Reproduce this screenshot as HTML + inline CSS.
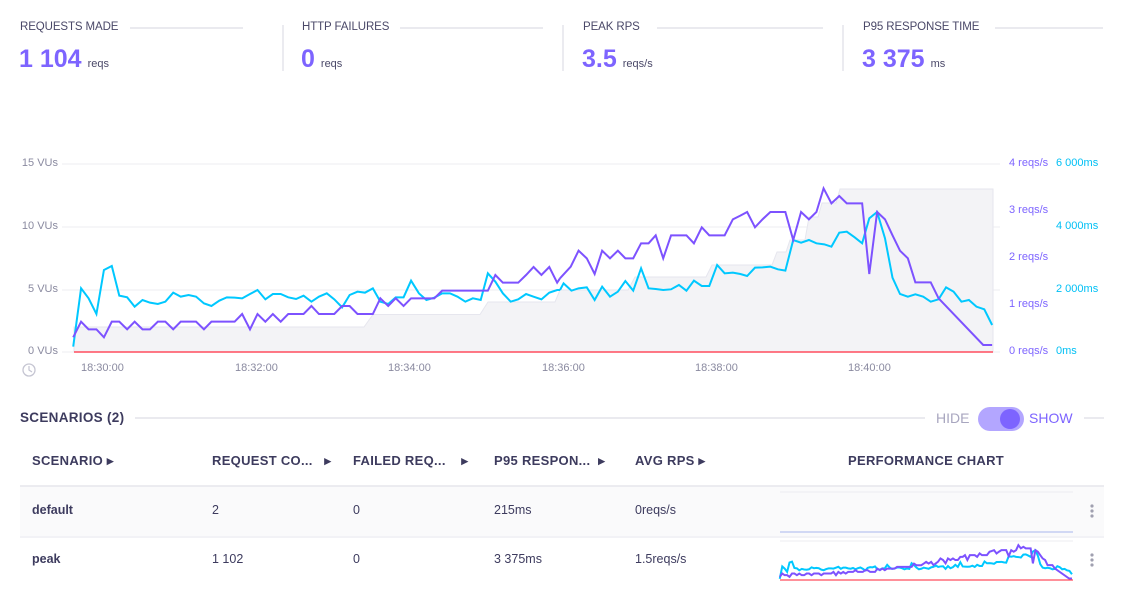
<!DOCTYPE html>
<html><head><meta charset="utf-8"><style>
body{margin:0;width:1123px;height:605px;background:#fff;font-family:"Liberation Sans",sans-serif;position:relative;overflow:hidden;color:#3d3b5e}
.a{position:absolute;white-space:nowrap}
.lbl{font-size:11.5px;color:#4a4868;letter-spacing:-.1px}
.big{font-size:25px;font-weight:bold;color:#7d64ff}
.unit{font-size:11px;color:#4a4868;font-weight:normal;margin-left:6px}
.th{font-size:13px;font-weight:bold;color:#3d3b5e;letter-spacing:.3px}
.td{font-size:12.5px;color:#3d3b5e}
</style></head><body>
<svg class="a" style="left:0;top:0" width="1123" height="605">
<defs>
<path id="area" d="M74,327 H364 L373,314.5 H480 L488,302 H555 L560,290 H628 L635,277 H706 L712,265 H772 L777,252 H786 L790,240 H805 L809,217 H818 L822,203 H836 L840,189 H993 V352 H74Z" fill="#f3f3f6" stroke="#e6e6ee" stroke-width="1"/>
<g id="series">
<g transform="translate(0,150) scale(0.35714,0.33333)">
<polyline vector-effect="non-scaling-stroke" fill="none" stroke="#00c8ff" stroke-width="2" points="205,590 227,415 248,445 270,492 291,360 313,348 334,437 356,442 377,470 399,450 420,458 442,462 463,455 485,428 506,440 528,435 549,440 571,460 592,468 614,452 635,442 657,443 678,445 700,432 721,420 743,448 764,432 786,432 807,442 829,447 850,437 872,455 893,440 915,430 936,448 958,472 979,435 1001,425 1022,428 1044,415 1065,455 1087,462 1108,442 1130,442 1151,392 1173,430 1194,450 1216,443 1238,430 1260,430 1281,440 1303,455 1324,445 1346,450 1366,370 1387,395 1408,430 1430,455 1451,448 1473,432 1494,440 1516,448 1538,428 1560,420 1568,420"/>
<polyline vector-effect="non-scaling-stroke" fill="none" stroke="#7d52ff" stroke-width="2" points="205,562 227,515 248,538 270,538 291,562 313,515 334,515 356,538 377,515 399,538 420,538 442,515 463,515 485,538 506,515 528,515 549,515 571,538 592,515 614,515 635,515 657,515 678,492 700,538 721,492 743,515 764,492 786,515 807,492 829,492 850,492 872,468 893,492 915,492 936,492 958,468 979,468 1001,492 1022,492 1044,492 1065,445 1087,468 1108,445 1130,468 1151,445 1173,445 1194,445 1216,445 1238,422 1366,422 1387,375 1408,398 1451,398 1473,375 1494,351 1516,375 1538,351 1560,398 1568,385"/>
</g>
<g transform="translate(560,150) scale(0.35714,0.33333)">
<polyline vector-effect="non-scaling-stroke" fill="none" stroke="#00c8ff" stroke-width="2" points="0,420 10,400 32,422 52,415 75,412 97,450 118,410 140,440 162,425 183,393 205,422 227,355 248,415 268,417 289,420 311,418 333,405 354,422 375,392 397,408 418,408 440,345 461,370 484,368 505,372 524,378 546,353 567,352 589,350 610,358 631,362 653,270 675,278 697,270 718,280 740,283 760,290 782,248 803,245 825,262 846,280 866,205 888,186 910,265 931,383 952,432 974,440 995,433 1017,440 1038,455 1060,448 1081,412 1102,425 1124,455 1145,450 1166,470 1188,478 1210,525"/>
<polyline vector-effect="non-scaling-stroke" fill="none" stroke="#7d52ff" stroke-width="2" points="0,385 30,350 52,302 75,325 97,372 118,302 140,325 162,302 183,325 205,325 227,280 248,280 268,256 289,325 311,256 354,256 375,280 397,232 418,256 461,256 484,208 505,197 524,186 546,232 567,208 589,186 631,186 653,270 675,186 697,208 718,186 738,115 760,160 782,138 803,160 846,160 866,372 888,186 910,208 931,256 952,302 974,325 995,397 1038,397 1060,445 1185,585 1210,585"/>
</g>
</g>
</defs>
<g stroke="#e4e4ea" stroke-width="1.5">
<line x1="130" y1="28" x2="243" y2="28"/><line x1="400" y1="28" x2="543" y2="28"/>
<line x1="657" y1="28" x2="823" y2="28"/><line x1="995" y1="28" x2="1103" y2="28"/>
<line x1="283" y1="25" x2="283" y2="71"/><line x1="563" y1="25" x2="563" y2="71"/><line x1="843" y1="25" x2="843" y2="71"/>
</g>
<g stroke="#ececf1" stroke-width="1">
<line x1="62" y1="164" x2="1000" y2="164"/><line x1="62" y1="227" x2="1000" y2="227"/><line x1="62" y1="290" x2="1000" y2="290"/><line x1="62" y1="352" x2="1000" y2="352"/>
</g>
<use href="#area"/>
<use href="#series"/>
<line x1="74" y1="352" x2="993" y2="352" stroke="#ff4d5e" stroke-width="1.5"/>
<circle cx="29" cy="370" r="6" fill="none" stroke="#c5c5d2" stroke-width="1.3"/><path d="M29,366 V370 L32,372" fill="none" stroke="#c5c5d2" stroke-width="1.2"/>
<line x1="135" y1="418" x2="925" y2="418" stroke="#e4e4ea" stroke-width="1.5"/>
<line x1="1084" y1="418" x2="1104" y2="418" stroke="#e4e4ea" stroke-width="1.5"/>
<rect x="978" y="407" width="46" height="24" rx="12" fill="#b3a6ff"/>
<circle cx="1010" cy="419" r="10" fill="#7d64ff"/>
<rect x="20" y="486" width="1084" height="50" fill="#fafafb"/>
<line x1="20" y1="486" x2="1104" y2="486" stroke="#e6e6ec" stroke-width="1.5"/>
<line x1="20" y1="537" x2="1104" y2="537" stroke="#e6e6ec" stroke-width="1"/>
<line x1="780" y1="492" x2="1073" y2="492" stroke="#ececf1"/>
<line x1="780" y1="532" x2="1073" y2="532" stroke="#b9c4ef" stroke-width="1.2"/>
<line x1="780" y1="541" x2="1073" y2="541" stroke="#ececf1"/>
<g transform="translate(780,580) scale(0.318,0.213) translate(-74,-352)"><use href="#series"/></g>
<line x1="780" y1="580" x2="1073" y2="580" stroke="#ff4d5e" stroke-width="1.2"/>
<g fill="#a0a0b0"><circle cx="1092" cy="506" r="1.6"/><circle cx="1092" cy="511" r="1.6"/><circle cx="1092" cy="516" r="1.6"/>
<circle cx="1092" cy="555" r="1.6"/><circle cx="1092" cy="560" r="1.6"/><circle cx="1092" cy="565" r="1.6"/></g>
</svg>

<div class="a lbl" style="left:20px;top:21px">REQUESTS MADE</div>
<div class="a big" style="left:19px;top:45px">1 104<span class="unit">reqs</span></div>
<div class="a lbl" style="left:302px;top:21px">HTTP FAILURES</div>
<div class="a big" style="left:301px;top:45px">0<span class="unit">reqs</span></div>
<div class="a lbl" style="left:583px;top:21px">PEAK RPS</div>
<div class="a big" style="left:582px;top:45px">3.5<span class="unit">reqs/s</span></div>
<div class="a lbl" style="left:863px;top:21px">P95 RESPONSE TIME</div>
<div class="a big" style="left:862px;top:45px">3 375<span class="unit">ms</span></div>

<div class="a" style="font-size:11px;color:#8a8aa0;right:1065px;top:157px">15 VUs</div>
<div class="a" style="font-size:11px;color:#8a8aa0;right:1065px;top:220px">10 VUs</div>
<div class="a" style="font-size:11px;color:#8a8aa0;right:1065px;top:283px">5 VUs</div>
<div class="a" style="font-size:11px;color:#8a8aa0;right:1065px;top:345px">0 VUs</div>
<div class="a" style="font-size:11px;color:#7d64ff;left:1009px;top:157px">4 reqs/s</div>
<div class="a" style="font-size:11px;color:#7d64ff;left:1009px;top:204px">3 reqs/s</div>
<div class="a" style="font-size:11px;color:#7d64ff;left:1009px;top:251px">2 reqs/s</div>
<div class="a" style="font-size:11px;color:#7d64ff;left:1009px;top:298px">1 reqs/s</div>
<div class="a" style="font-size:11px;color:#7d64ff;left:1009px;top:345px">0 reqs/s</div>
<div class="a" style="font-size:11px;color:#00c0f5;left:1056px;top:157px">6 000ms</div>
<div class="a" style="font-size:11px;color:#00c0f5;left:1056px;top:220px">4 000ms</div>
<div class="a" style="font-size:11px;color:#00c0f5;left:1056px;top:283px">2 000ms</div>
<div class="a" style="font-size:11px;color:#00c0f5;left:1056px;top:345px">0ms</div>
<div class="a" style="font-size:11px;color:#8a8aa0;left:81px;top:362px">18:30:00</div>
<div class="a" style="font-size:11px;color:#8a8aa0;left:235px;top:362px">18:32:00</div>
<div class="a" style="font-size:11px;color:#8a8aa0;left:388px;top:362px">18:34:00</div>
<div class="a" style="font-size:11px;color:#8a8aa0;left:542px;top:362px">18:36:00</div>
<div class="a" style="font-size:11px;color:#8a8aa0;left:695px;top:362px">18:38:00</div>
<div class="a" style="font-size:11px;color:#8a8aa0;left:848px;top:362px">18:40:00</div>

<div class="a th" style="left:20px;top:410px;font-size:13.5px">SCENARIOS (2)</div>
<div class="a" style="left:936px;top:410px;font-size:14px;color:#a8a6bf">HIDE</div>
<div class="a" style="left:1029px;top:410px;font-size:14px;color:#7d64ff">SHOW</div>

<div class="a th" style="left:32px;top:453px">SCENARIO ▸</div>
<div class="a th" style="left:212px;top:453px">REQUEST CO...&nbsp;&nbsp;&nbsp;▸</div>
<div class="a th" style="left:353px;top:453px">FAILED REQ...&nbsp;&nbsp;&nbsp;&nbsp;▸</div>
<div class="a th" style="left:494px;top:453px">P95 RESPON...&nbsp;&nbsp;▸</div>
<div class="a th" style="left:635px;top:453px">AVG RPS ▸</div>
<div class="a th" style="left:848px;top:453px">PERFORMANCE CHART</div>

<div class="a td" style="left:32px;top:503px;font-weight:bold">default</div>
<div class="a td" style="left:212px;top:503px">2</div>
<div class="a td" style="left:353px;top:503px">0</div>
<div class="a td" style="left:494px;top:503px">215ms</div>
<div class="a td" style="left:635px;top:503px">0reqs/s</div>
<div class="a td" style="left:32px;top:552px;font-weight:bold">peak</div>
<div class="a td" style="left:212px;top:552px">1 102</div>
<div class="a td" style="left:353px;top:552px">0</div>
<div class="a td" style="left:494px;top:552px">3 375ms</div>
<div class="a td" style="left:635px;top:552px">1.5reqs/s</div>
</body></html>
